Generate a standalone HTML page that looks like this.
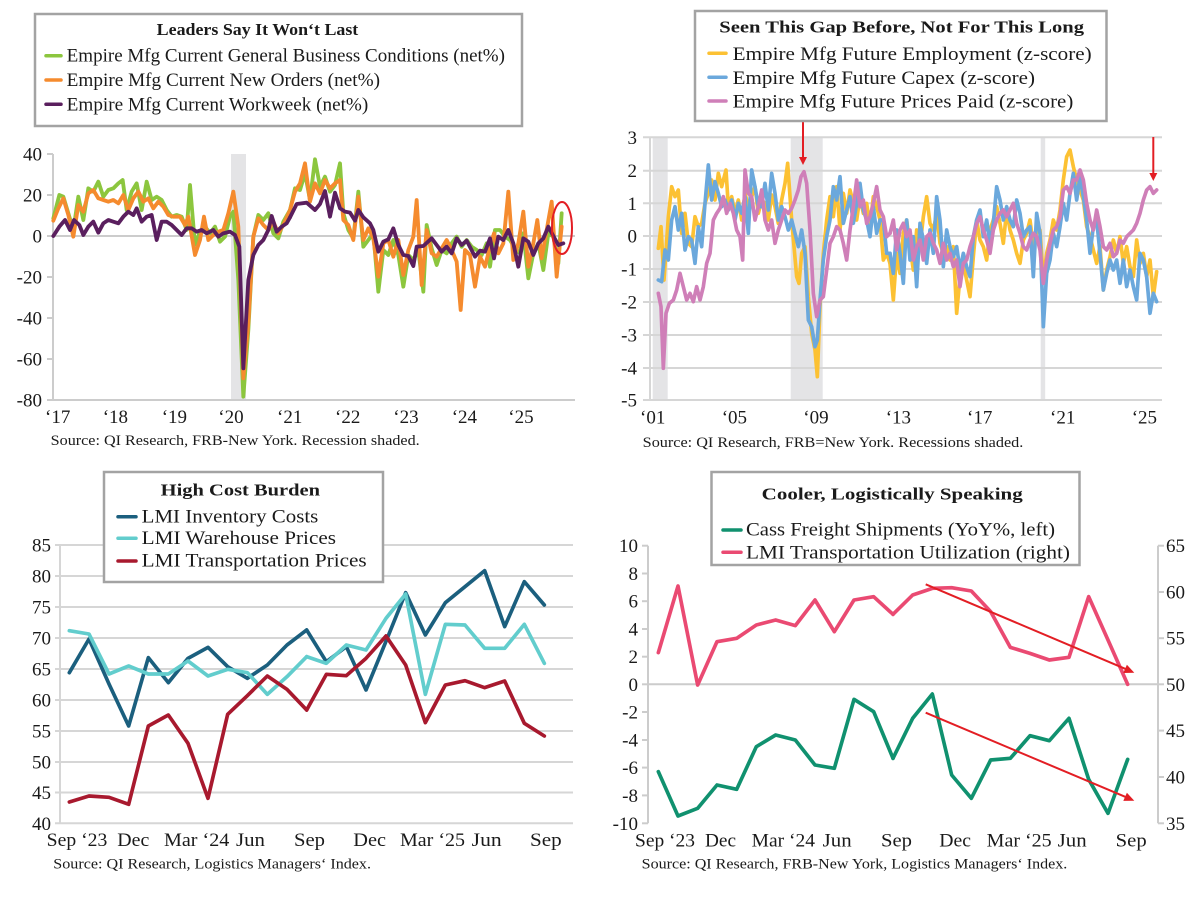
<!DOCTYPE html>
<html><head><meta charset="utf-8"><style>
html,body{margin:0;padding:0;background:#fff;}
svg{display:block;}
text{font-family:"Liberation Serif",serif;fill:#1a1a1a;}
.t{font-size:19px;}
.src{font-size:15px;}
.ttl{font-size:17px;font-weight:bold;}
.lg{font-size:19px;}
</style></head><body>
<svg width="1200" height="898" viewBox="0 0 1200 898" xmlns="http://www.w3.org/2000/svg">
<rect width="1200" height="898" fill="#fff"/>

<!-- ================= TOP LEFT ================= -->
<rect x="231" y="154" width="15" height="246" fill="#e4e4e6"/>
<g stroke="#cccccc" stroke-width="2" fill="none">
<line x1="53" y1="154" x2="53" y2="401"/>
<line x1="53" y1="400" x2="575" y2="400"/>
<line x1="53" y1="236" x2="575" y2="236"/>
<line x1="47" y1="154" x2="53" y2="154"/><line x1="47" y1="195" x2="53" y2="195"/><line x1="47" y1="236" x2="53" y2="236"/><line x1="47" y1="277" x2="53" y2="277"/><line x1="47" y1="318" x2="53" y2="318"/><line x1="47" y1="359" x2="53" y2="359"/><line x1="47" y1="400" x2="53" y2="400"/>
</g>
<g class="t" text-anchor="end">
<text x="42" y="160.5">40</text><text x="42" y="201.5">20</text><text x="42" y="242.5">0</text><text x="42" y="283.5">-20</text><text x="42" y="324.5">-40</text><text x="42" y="365.5">-60</text><text x="42" y="406.5">-80</text>
</g>
<g class="t">
<text x="45" y="423">‘17</text><text x="102.7" y="423">‘18</text><text x="161.7" y="423">‘19</text><text x="218.3" y="423">‘20</text><text x="277" y="423">‘21</text><text x="335" y="423">‘22</text><text x="393.3" y="423">‘23</text><text x="451.7" y="423">‘24</text><text x="508.3" y="423">‘25</text>
</g>
<text class="src" x="50.7" y="445" textLength="369" lengthAdjust="spacingAndGlyphs">Source: QI Research, FRB-New York. Recession shaded.</text>

<g transform="translate(0,130) scale(0.3333333)" fill="none" stroke-width="11.5" stroke-linejoin="round" stroke-linecap="round">
<polyline stroke="#8cc63e" points="160,265 178,195 190,200 205,250 220,300 235,200 250,270 265,175 280,185 295,155 310,200 325,180 340,175 355,160 368,150 380,240 395,185 410,160 425,240 440,155 455,210 470,200 485,210 500,240 515,260 530,255 545,260 560,300 570,165 585,345 600,305 615,290 630,310 645,290 660,335 675,320 690,260 700,245 715,450 730,800 745,600 760,320 775,255 790,270 805,250 820,310 835,325 850,275 870,240"/>
<polyline stroke="#f58b2e" points="160,272 175,235 190,205 205,255 220,320 235,225 250,245 265,190 280,180 295,205 310,210 325,215 340,210 355,220 370,195 385,240 400,205 415,185 430,215 445,205 460,235 475,215 490,230 505,255 520,260 540,260 555,285 565,260 585,375 600,330 612,260 625,330 640,315 655,305 670,300 685,250 700,185 715,290 730,745 745,580 760,320 775,265 790,285 805,300 820,275 835,310 850,285 870,240"/>
<polyline stroke="#5a1f5e" points="160,318 178,290 195,270 210,300 222,270 238,285 250,315 265,290 280,275 295,308 310,280 325,270 340,275 355,280 370,260 385,245 400,255 410,235 425,275 440,260 455,255 470,330 485,275 500,275 515,285 530,300 545,315 560,295 575,295 590,305 605,300 620,310 640,300 655,320 670,310 690,305 705,315 718,350 730,715 745,450 760,375 775,345 790,330 805,300 815,258 830,305 845,290 860,280 870,262"/>
</g>
<g transform="translate(290,130) scale(0.3333333)" fill="none" stroke-width="11.5" stroke-linejoin="round" stroke-linecap="round">
<polyline stroke="#8cc63e" points="0,240 15,175 30,180 45,130 60,210 75,88 90,170 105,140 120,185 135,165 150,100 160,250 175,300 190,325 205,185 220,350 235,330 250,310 265,485 280,360 295,375 310,330 325,375 340,470 355,375 370,390 385,360 400,485 410,285 425,355 440,405 455,360 470,370 485,340 500,320 515,350 530,330 545,350 560,360 575,375 590,340 600,410 615,300 630,300 645,320 660,330 675,355 690,370 700,310 715,445 730,370 745,340 760,420 775,310 790,320 805,400 815,250"/>
<polyline stroke="#f58b2e" points="0,240 15,185 30,160 45,100 60,215 75,160 90,190 105,150 120,175 135,160 150,150 160,270 175,285 190,330 205,200 220,330 235,295 250,325 265,440 280,340 295,330 310,380 325,330 340,435 355,360 370,320 380,210 395,465 410,300 425,370 440,380 455,355 470,330 485,360 500,395 512,540 525,360 540,375 555,470 570,380 585,410 600,350 612,310 625,370 640,340 655,185 670,390 685,340 700,245 715,410 730,340 742,270 755,385 770,300 785,215 800,440 815,290"/>
<polyline stroke="#5a1f5e" points="0,262 20,222 50,218 75,240 90,222 105,183 120,260 135,188 150,235 165,245 180,248 195,272 205,240 220,262 240,280 250,300 265,365 280,335 295,328 310,295 325,345 340,375 355,378 370,408 380,350 400,348 425,325 440,345 455,365 470,350 485,370 500,325 515,345 530,332 555,380 570,362 585,365 600,325 612,385 625,320 640,330 655,300 670,340 685,410 700,325 715,335 730,375 745,340 760,325 775,290 790,318 805,345 820,340"/>
</g>
<ellipse cx="562" cy="228" rx="10" ry="26" fill="none" stroke="#e31e24" stroke-width="2"/>

<rect x="35" y="14" width="487" height="112" fill="#fff" stroke="#a3a3a3" stroke-width="2.5"/>
<text class="ttl" x="156.7" y="35" textLength="201.6" lengthAdjust="spacingAndGlyphs">Leaders Say It Won‘t Last</text>
<g stroke-width="3.5" stroke-linecap="round">
<line x1="46" y1="55.7" x2="61" y2="55.7" stroke="#8cc63e"/>
<line x1="46" y1="80" x2="61" y2="80" stroke="#f58b2e"/>
<line x1="46" y1="104.3" x2="61" y2="104.3" stroke="#5a1f5e"/>
</g>
<text class="lg" x="66.7" y="61.7" textLength="438.3" lengthAdjust="spacingAndGlyphs">Empire Mfg Current General Business Conditions (net%)</text>
<text class="lg" x="66.7" y="86" textLength="313.3" lengthAdjust="spacingAndGlyphs">Empire Mfg Current New Orders (net%)</text>
<text class="lg" x="66.7" y="110.3" textLength="301.6" lengthAdjust="spacingAndGlyphs">Empire Mfg Current Workweek (net%)</text>

<!-- ================= TOP RIGHT ================= -->
<g fill="#e4e4e6">
<rect x="652.7" y="137" width="15" height="263"/>
<rect x="790.7" y="137" width="32" height="263"/>
<rect x="1040.7" y="137" width="4.5" height="263"/>
</g>
<g stroke="#d6d6d6" stroke-width="2" fill="none">
<line x1="643" y1="137.3" x2="1162" y2="137.3"/>
<line x1="643" y1="170.7" x2="1162" y2="170.7"/>
<line x1="643" y1="203.3" x2="1162" y2="203.3"/>
<line x1="643" y1="236" x2="1162" y2="236"/>
<line x1="643" y1="269" x2="1162" y2="269"/>
<line x1="643" y1="302" x2="1162" y2="302"/>
<line x1="643" y1="335" x2="1162" y2="335"/>
<line x1="643" y1="368" x2="1162" y2="368"/>
<line x1="643" y1="400" x2="1162" y2="400"/>
<line x1="650" y1="137" x2="650" y2="400"/>
</g>
<g class="t" text-anchor="end">
<text x="637" y="143.8">3</text><text x="637" y="177.2">2</text><text x="637" y="209.8">1</text><text x="637" y="242.5">0</text><text x="637" y="275.5">-1</text><text x="637" y="308.5">-2</text><text x="637" y="341.5">-3</text><text x="637" y="374.5">-4</text><text x="637" y="406.5">-5</text>
</g>
<g class="t">
<text x="640" y="423.5">‘01</text><text x="721.7" y="423.5">‘05</text><text x="803.3" y="423.5">‘09</text><text x="885.7" y="423.5">‘13</text><text x="967" y="423.5">‘17</text><text x="1050" y="423.5">‘21</text><text x="1131.7" y="423.5">‘25</text>
</g>
<text class="src" x="642.7" y="447" textLength="380.6" lengthAdjust="spacingAndGlyphs">Source: QI Research, FRB=New York. Recessions shaded.</text>

<g transform="translate(600,120) scale(0.3333333)" fill="none" stroke-width="11" stroke-linejoin="round" stroke-linecap="round">
<polyline stroke="#fcc133" points="175,385 183,320 192,480 205,290 215,200 225,230 235,210 245,340 255,280 265,370 275,380 285,290 295,320 305,310 315,250 325,220 335,180 345,240 355,160 365,200 378,150 385,260 395,230 405,280 415,240 425,300 435,220 445,260 455,230 465,200 475,280 485,240 495,250 505,300 515,225 525,260 535,310 545,240 555,190 563,130 575,300 590,470 597,490 605,400 615,380 625,530 635,640 645,690 652,770 660,560 670,400 680,300 690,230 700,290 710,200 720,330 730,220 740,280 750,210 760,250 770,300 780,230 790,280 800,250 810,320 820,230 830,260 840,300 850,420 860,400 870,430"/>
<polyline stroke="#6ba8dc" points="175,480 185,485 195,390 205,420 215,300 225,260 235,330 245,280 255,390 265,350 275,360 285,430 295,320 305,380 315,250 325,135 335,240 345,185 355,220 365,260 375,240 385,270 395,240 405,300 415,250 425,280 435,230 445,340 455,150 465,200 475,260 485,260 495,190 505,270 515,160 525,220 535,300 545,260 555,290 565,330 575,300 585,340 595,380 605,330 615,400 625,600 635,620 645,680 652,660 660,540 670,420 680,350 690,300 700,200 710,240 720,170 730,310 740,270 750,230 760,310 770,250 780,190 790,270 800,300 810,350 820,260 830,340 840,300 850,300 860,400 870,400"/>
<polyline stroke="#cf7fb8" points="175,520 183,560 190,745 198,580 208,550 220,540 230,510 240,460 250,500 260,540 270,520 280,545 290,500 300,540 310,500 320,430 330,400 340,300 350,280 360,265 370,230 380,280 390,250 400,280 410,330 420,350 428,420 435,150 445,220 455,230 465,300 475,260 485,210 495,300 505,330 515,300 525,370 535,330 545,300 555,270 565,280 575,265 585,240 595,210 603,170 612,155 620,190 630,330 640,520 650,590 660,540 670,530 680,450 690,370 700,350 710,320 720,330 730,370 740,420 750,330 760,260 770,180 780,260 790,240 800,310 810,290 820,250 830,200 840,270 850,290 860,350 870,340"/>
</g>
<g transform="translate(890,120) scale(0.3333333)" fill="none" stroke-width="11" stroke-linejoin="round" stroke-linecap="round">
<polyline stroke="#fcc133" points="0,430 10,540 20,400 30,460 40,340 50,300 60,380 70,450 80,330 90,380 100,290 110,230 120,310 130,330 140,280 150,370 160,400 170,380 180,420 190,380 200,580 210,470 220,430 230,480 240,530 250,410 260,300 270,360 280,380 290,420 300,330 310,300 320,260 330,310 340,370 350,270 360,330 370,360 380,400 390,430 400,360 410,340 420,300 430,380 440,340 450,330 460,480 470,400 480,360 490,300 500,330 510,270 520,180 530,110 540,90 550,140 560,180 570,210 580,240 590,320 600,350 610,390 620,430 630,380 640,510 650,450 660,410 670,360 680,400 690,350 700,430 710,380 720,440 730,470 740,360 750,430 760,400 770,470 780,420 790,530 800,455"/>
<polyline stroke="#6ba8dc" points="0,400 10,460 20,330 30,400 40,490 50,300 60,420 70,350 80,500 90,310 100,360 110,430 120,330 130,400 140,230 150,300 160,440 170,330 180,380 190,410 200,380 210,450 220,400 230,440 240,470 250,350 260,300 270,270 280,350 290,300 300,370 310,310 320,200 330,240 340,300 350,260 360,300 370,320 380,240 390,280 400,350 410,330 420,320 430,470 440,280 450,340 460,620 470,460 480,420 490,340 500,380 510,320 520,250 530,300 540,220 550,160 560,240 570,170 580,230 590,300 600,400 610,320 620,300 630,400 640,510 650,460 660,420 670,450 680,420 690,490 700,420 710,500 720,450 730,500 740,540 750,400 760,420 770,470 780,580 790,520 800,545"/>
<polyline stroke="#cf7fb8" points="0,340 10,300 20,390 30,330 40,310 50,350 60,330 70,420 80,380 90,360 100,420 110,350 120,340 130,370 140,390 150,430 160,370 170,420 180,400 190,440 200,420 210,500 220,430 230,420 240,380 250,350 260,310 270,290 280,330 290,360 300,400 310,330 320,300 330,280 340,270 350,290 360,270 370,250 380,310 390,340 400,380 410,390 420,360 430,340 440,350 450,390 460,490 470,420 480,370 490,330 500,320 510,290 520,210 530,200 540,220 550,180 560,180 570,150 580,180 590,250 600,300 610,330 620,270 630,320 640,380 650,390 660,370 670,410 680,400 690,360 700,370 710,350 720,340 730,330 740,310 750,280 760,240 770,210 780,200 790,220 800,210"/>
</g>
<!-- arrows -->
<g stroke="#e31e24" stroke-width="2" fill="#e31e24">
<line x1="803" y1="122" x2="803" y2="158"/>
<polygon points="799,157 807,157 803,165" stroke="none"/>
<line x1="1153.3" y1="137" x2="1153.3" y2="174"/>
<polygon points="1149.3,173 1157.3,173 1153.3,181" stroke="none"/>
</g>

<rect x="695" y="11" width="411.5" height="110" fill="#fff" stroke="#a3a3a3" stroke-width="2.5"/>
<text class="ttl" x="719.3" y="32.3" textLength="364.7" lengthAdjust="spacingAndGlyphs">Seen This Gap Before, Not For This Long</text>
<g stroke-width="3.5" stroke-linecap="round">
<line x1="709" y1="53.3" x2="726" y2="53.3" stroke="#fcc133"/>
<line x1="709" y1="77.3" x2="726" y2="77.3" stroke="#6ba8dc"/>
<line x1="709" y1="101" x2="726" y2="101" stroke="#cf7fb8"/>
</g>
<text class="lg" x="732.7" y="60" textLength="359" lengthAdjust="spacingAndGlyphs">Empire Mfg Future Employment (z-score)</text>
<text class="lg" x="732.7" y="84" textLength="302.3" lengthAdjust="spacingAndGlyphs">Empire Mfg Future Capex (z-score)</text>
<text class="lg" x="732.7" y="107.7" textLength="340.6" lengthAdjust="spacingAndGlyphs">Empire Mfg Future Prices Paid (z-score)</text>

<!-- ================= BOTTOM LEFT ================= -->
<g stroke="#d6d6d6" stroke-width="2" fill="none">
<line x1="55" y1="545" x2="573" y2="545"/>
<line x1="55" y1="576" x2="573" y2="576"/>
<line x1="55" y1="607" x2="573" y2="607"/>
<line x1="55" y1="638" x2="573" y2="638"/>
<line x1="55" y1="669" x2="573" y2="669"/>
<line x1="55" y1="700" x2="573" y2="700"/>
<line x1="55" y1="731" x2="573" y2="731"/>
<line x1="55" y1="762" x2="573" y2="762"/>
<line x1="55" y1="792.5" x2="573" y2="792.5"/>
<line x1="55" y1="823.3" x2="573" y2="823.3"/>
<line x1="60" y1="545" x2="60" y2="824"/>
</g>
<g class="t" text-anchor="end">
<text x="51" y="551.5">85</text><text x="51" y="582.5">80</text><text x="51" y="613.5">75</text><text x="51" y="644.5">70</text><text x="51" y="675.5">65</text><text x="51" y="706.5">60</text><text x="51" y="737.5">55</text><text x="51" y="768.5">50</text><text x="51" y="799">45</text><text x="51" y="829.8">40</text>
</g>
<g class="t">
<text x="46.7" y="846" textLength="60.6" lengthAdjust="spacingAndGlyphs">Sep ‘23</text>
<text x="117.3" y="846" textLength="32" lengthAdjust="spacingAndGlyphs">Dec</text>
<text x="164" y="846" textLength="65.3" lengthAdjust="spacingAndGlyphs">Mar ‘24</text>
<text x="236" y="846" textLength="29" lengthAdjust="spacingAndGlyphs">Jun</text>
<text x="294" y="846" textLength="31" lengthAdjust="spacingAndGlyphs">Sep</text>
<text x="353.3" y="846" textLength="32.7" lengthAdjust="spacingAndGlyphs">Dec</text>
<text x="400" y="846" textLength="65" lengthAdjust="spacingAndGlyphs">Mar ‘25</text>
<text x="471.7" y="846" textLength="30" lengthAdjust="spacingAndGlyphs">Jun</text>
<text x="530" y="846" textLength="31.7" lengthAdjust="spacingAndGlyphs">Sep</text>
</g>
<text class="src" x="53.3" y="868.5" textLength="317.7" lengthAdjust="spacingAndGlyphs">Source: QI Research, Logistics Managers‘ Index.</text>

<g transform="translate(0,530) scale(0.3333333)" fill="none" stroke-width="11" stroke-linejoin="round" stroke-linecap="round">
<polyline stroke="#1b5f7e" points="208,428 267,327 327,462 386,588 445,383 505,458 564,385 624,352 683,410 742,445 802,405 861,345 920,300"/>
<polyline stroke="#62cdcd" points="208,302 267,312 327,432 386,408 445,432 505,432 564,393 624,438 683,418 742,428 802,493 861,440 920,380"/>
<polyline stroke="#a8192e" points="208,816 267,798 327,802 386,823 445,588 505,555 564,640 624,805 683,553 742,497 802,438 861,478 920,540"/>
</g>
<g transform="translate(290,530) scale(0.3333333)" fill="none" stroke-width="11" stroke-linejoin="round" stroke-linecap="round">
<polyline stroke="#1b5f7e" points="50,300 109,395 169,350 228,480 288,334 347,188 406,315 466,218 525,170 584,122 644,290 703,155 763,225"/>
<polyline stroke="#62cdcd" points="50,380 109,400 169,345 228,360 288,265 347,192 406,493 466,283 525,285 584,355 644,355 703,283 763,400"/>
<polyline stroke="#a8192e" points="50,540 109,433 169,437 228,385 288,318 347,405 406,578 466,465 525,452 584,473 644,453 703,580 763,618"/>
</g>

<rect x="104" y="472" width="279" height="110" fill="#fff" stroke="#a3a3a3" stroke-width="2.5"/>
<text class="ttl" x="160.7" y="495.7" textLength="159.3" lengthAdjust="spacingAndGlyphs">High Cost Burden</text>
<g stroke-width="3.5" stroke-linecap="round">
<line x1="118" y1="516.7" x2="136" y2="516.7" stroke="#1b5f7e"/>
<line x1="118" y1="538.3" x2="136" y2="538.3" stroke="#62cdcd"/>
<line x1="118" y1="561" x2="136" y2="561" stroke="#a8192e"/>
</g>
<text class="lg" x="141.7" y="522.3" textLength="176.6" lengthAdjust="spacingAndGlyphs">LMI Inventory Costs</text>
<text class="lg" x="141.7" y="544" textLength="194.3" lengthAdjust="spacingAndGlyphs">LMI Warehouse Prices</text>
<text class="lg" x="141.7" y="566.3" textLength="225" lengthAdjust="spacingAndGlyphs">LMI Transportation Prices</text>

<!-- ================= BOTTOM RIGHT ================= -->
<g stroke="#cccccc" stroke-width="2" fill="none">
<line x1="648" y1="545.7" x2="648" y2="823.3"/>
<line x1="1158" y1="545.7" x2="1158" y2="823.3"/>
<line x1="648" y1="684.3" x2="1158" y2="684.3"/>
<line x1="642" y1="545.7" x2="648" y2="545.7"/><line x1="642" y1="573.5" x2="648" y2="573.5"/><line x1="642" y1="601.2" x2="648" y2="601.2"/><line x1="642" y1="629" x2="648" y2="629"/><line x1="642" y1="656.7" x2="648" y2="656.7"/><line x1="642" y1="684.3" x2="648" y2="684.3"/><line x1="642" y1="712" x2="648" y2="712"/><line x1="642" y1="740" x2="648" y2="740"/><line x1="642" y1="767.6" x2="648" y2="767.6"/><line x1="642" y1="795.4" x2="648" y2="795.4"/><line x1="642" y1="823.3" x2="648" y2="823.3"/>
<line x1="1158" y1="545.7" x2="1164" y2="545.7"/><line x1="1158" y1="592" x2="1164" y2="592"/><line x1="1158" y1="638.2" x2="1164" y2="638.2"/><line x1="1158" y1="684.3" x2="1164" y2="684.3"/><line x1="1158" y1="730.6" x2="1164" y2="730.6"/><line x1="1158" y1="777" x2="1164" y2="777"/><line x1="1158" y1="823.3" x2="1164" y2="823.3"/>
</g>
<g class="t" text-anchor="end">
<text x="638" y="552.2">10</text><text x="638" y="580">8</text><text x="638" y="607.7">6</text><text x="638" y="635.5">4</text><text x="638" y="663.2">2</text><text x="638" y="690.8">0</text><text x="638" y="718.5">-2</text><text x="638" y="746.5">-4</text><text x="638" y="774.1">-6</text><text x="638" y="801.9">-8</text><text x="638" y="829.8">-10</text>
</g>
<g class="t">
<text x="1166" y="552.2">65</text><text x="1166" y="598.5">60</text><text x="1166" y="644.7">55</text><text x="1166" y="690.8">50</text><text x="1166" y="737.1">45</text><text x="1166" y="783.5">40</text><text x="1166" y="829.8">35</text>
</g>
<g class="t">
<text x="635" y="846.5" textLength="60" lengthAdjust="spacingAndGlyphs">Sep ‘23</text>
<text x="705" y="846.5" textLength="31" lengthAdjust="spacingAndGlyphs">Dec</text>
<text x="751.7" y="846.5" textLength="63.3" lengthAdjust="spacingAndGlyphs">Mar ‘24</text>
<text x="822.7" y="846.5" textLength="29" lengthAdjust="spacingAndGlyphs">Jun</text>
<text x="881" y="846.5" textLength="31" lengthAdjust="spacingAndGlyphs">Sep</text>
<text x="939.3" y="846.5" textLength="31.7" lengthAdjust="spacingAndGlyphs">Dec</text>
<text x="986.7" y="846.5" textLength="65" lengthAdjust="spacingAndGlyphs">Mar ‘25</text>
<text x="1057.7" y="846.5" textLength="29" lengthAdjust="spacingAndGlyphs">Jun</text>
<text x="1115.7" y="846.5" textLength="31" lengthAdjust="spacingAndGlyphs">Sep</text>
</g>
<text class="src" x="641.7" y="868.5" textLength="425.6" lengthAdjust="spacingAndGlyphs">Source: QI Research, FRB-New York, Logistics Managers‘ Index.</text>

<g transform="translate(600,530) scale(0.3333333)" fill="none" stroke-width="11" stroke-linejoin="round" stroke-linecap="round">
<polyline stroke="#10916f" points="175,725 234,858 293,835 351,765 410,778 469,650 527,615 586,630 645,705 703,715 762,508 821,545 879,685"/>
<polyline stroke="#ea4a72" points="175,368 234,168 293,465 351,335 410,325 469,285 527,270 586,287 645,210 703,305 762,210 821,200 879,253"/>
</g>
<g transform="translate(890,530) scale(0.3333333)" fill="none" stroke-width="11" stroke-linejoin="round" stroke-linecap="round">
<polyline stroke="#10916f" points="9,685 68,565 127,492 185,735 244,805 302,690 361,685 420,617 478,632 537,565 596,748 654,850 713,688"/>
<polyline stroke="#ea4a72" points="9,253 68,195 127,175 185,173 244,183 302,245 361,352 420,370 478,390 537,382 596,200 654,330 713,463"/>
</g>
<g stroke="#e31e24" stroke-width="2" fill="#e31e24">
<line x1="925.7" y1="584.3" x2="1127" y2="669.6"/>
<polygon points="1134.3,672.7 1123.3,673 1126.9,664.7" stroke="none"/>
<line x1="925.7" y1="712.7" x2="1127" y2="797.6"/>
<polygon points="1134.3,800.7 1123.3,800.9 1126.9,792.7" stroke="none"/>
</g>

<rect x="711.5" y="472" width="368" height="93" fill="#fff" stroke="#a3a3a3" stroke-width="2.5"/>
<text class="ttl" x="761.7" y="499.3" textLength="261" lengthAdjust="spacingAndGlyphs">Cooler, Logistically Speaking</text>
<g stroke-width="3.5" stroke-linecap="round">
<line x1="723" y1="530" x2="741" y2="530" stroke="#10916f"/>
<line x1="723" y1="552.3" x2="741" y2="552.3" stroke="#ea4a72"/>
</g>
<text class="lg" x="746" y="535.7" textLength="309" lengthAdjust="spacingAndGlyphs">Cass Freight Shipments (YoY%, left)</text>
<text class="lg" x="746" y="558.3" textLength="324" lengthAdjust="spacingAndGlyphs">LMI Transportation Utilization (right)</text>
</svg>
</body></html>
